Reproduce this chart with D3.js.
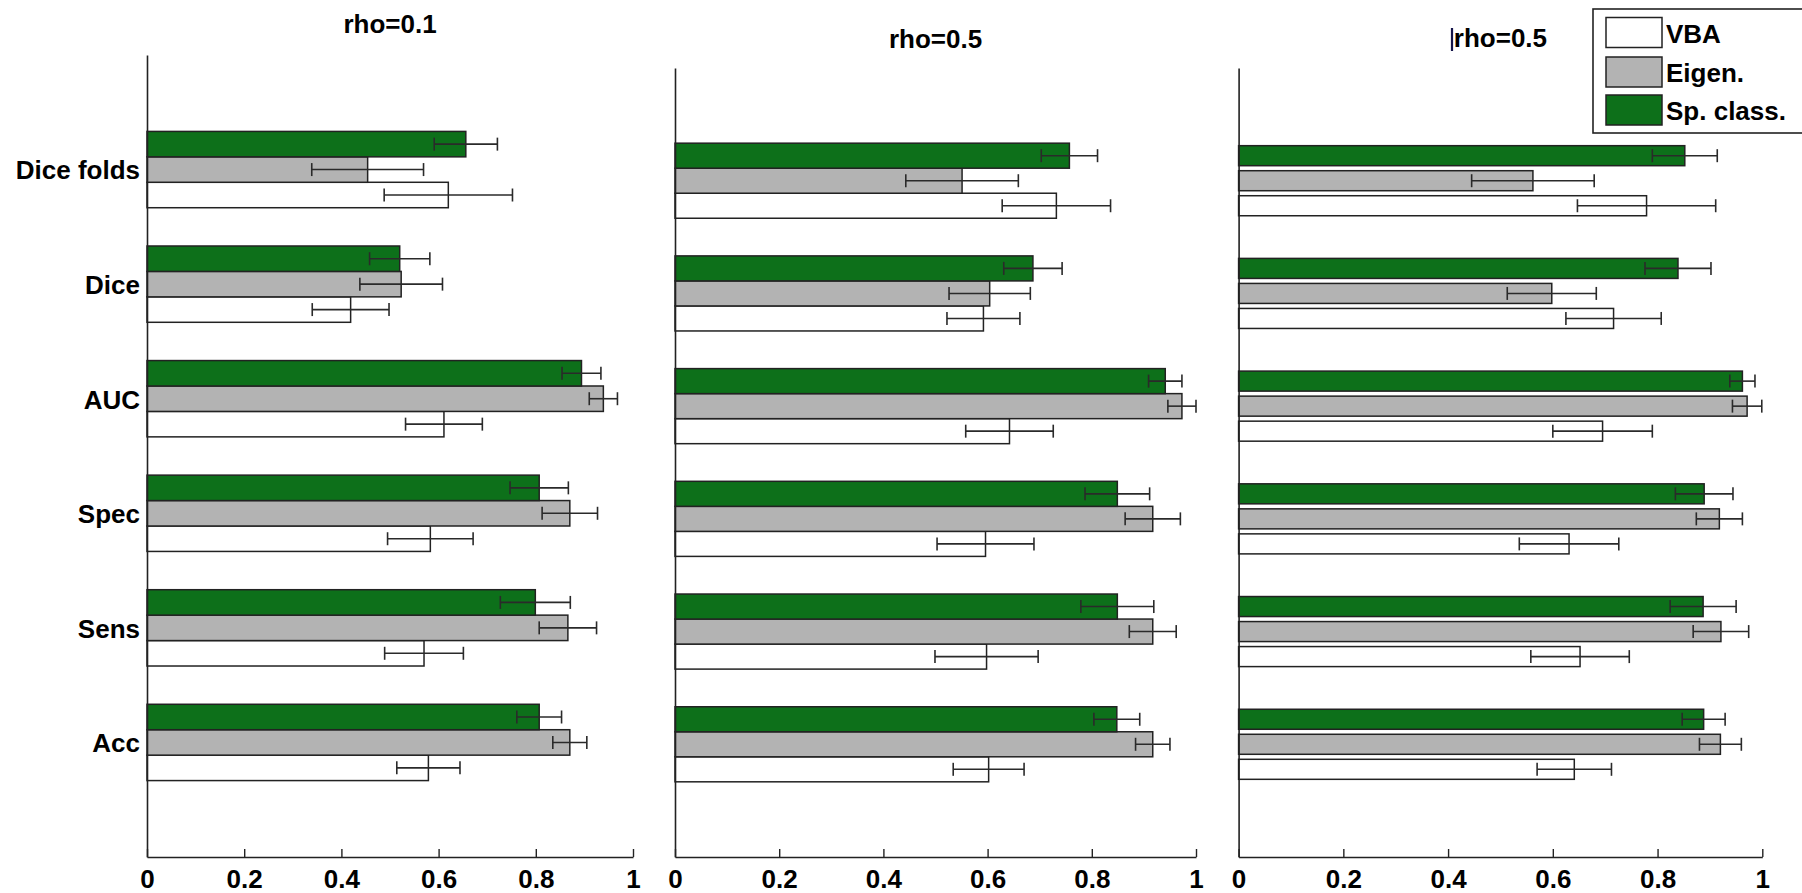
<!DOCTYPE html>
<html>
<head>
<meta charset="utf-8">
<script src="https://cdn.jsdelivr.net/npm/d3@7"></script>
<style>
  html, body { margin: 0; padding: 0; background: #fff; }
  svg { display: block; }
  text { font-family: "Liberation Sans", Arial, Helvetica, sans-serif; font-weight: bold; fill: #000; }
</style>
</head>
<body>
<svg id="chart" width="1802" height="893"></svg>
<script>
// ---------------- DATA ----------------
const categories = ["Dice folds", "Dice", "AUC", "Spec", "Sens", "Acc"]; // top -> bottom
const seriesNames = ["VBA", "Eigen.", "Sp. class."];
const panelTitles = ["rho=0.1", "rho=0.5", "rho=0.5"];
const tickValues = [0, 0.2, 0.4, 0.6, 0.8, 1];
const tickLabels = ["0", "0.2", "0.4", "0.6", "0.8", "1"];

// Panel 1 (rho=0.1)
const p1VBA      = [0.620, 0.419, 0.611, 0.583, 0.570, 0.579];
const p1VBAErr   = [0.132, 0.079, 0.079, 0.088, 0.081, 0.065];
const p1Eigen    = [0.454, 0.523, 0.939, 0.870, 0.866, 0.870];
const p1EigenErr = [0.115, 0.085, 0.029, 0.057, 0.059, 0.035];
const p1Sp       = [0.656, 0.520, 0.894, 0.807, 0.799, 0.807];
const p1SpErr    = [0.065, 0.062, 0.040, 0.060, 0.072, 0.046];

// Panel 2 (rho=0.5)
const p2VBA      = [0.732, 0.592, 0.642, 0.596, 0.598, 0.602];
const p2VBAErr   = [0.104, 0.070, 0.084, 0.093, 0.099, 0.068];
const p2Eigen    = [0.551, 0.604, 0.973, 0.917, 0.917, 0.917];
const p2EigenErr = [0.108, 0.078, 0.027, 0.053, 0.045, 0.033];
const p2Sp       = [0.757, 0.687, 0.941, 0.849, 0.849, 0.848];
const p2SpErr    = [0.054, 0.056, 0.032, 0.062, 0.070, 0.044];

// Panel 3 (rho=0.5)
const p3VBA      = [0.779, 0.716, 0.695, 0.631, 0.652, 0.641];
const p3VBAErr   = [0.132, 0.091, 0.095, 0.095, 0.094, 0.071];
const p3Eigen    = [0.562, 0.598, 0.971, 0.918, 0.921, 0.920];
const p3EigenErr = [0.117, 0.085, 0.028, 0.044, 0.053, 0.040];
const p3Sp       = [0.852, 0.839, 0.962, 0.889, 0.887, 0.888];
const p3SpErr    = [0.062, 0.063, 0.024, 0.055, 0.063, 0.041];

// ---------------- STYLE / LAYOUT ----------------
const colors = ["#ffffff", "#b3b3b3", "#0d701a"];
const FONT = 26;
const panels = [
  { title: panelTitles[0], x0: 147, x1: 633, top: 55, bottom: 857, titleY: 33, fill: 1.0, showLabels: true,
    series: [[p1VBA, p1VBAErr], [p1Eigen, p1EigenErr], [p1Sp, p1SpErr]] },
  { title: panelTitles[1], x0: 675, x1: 1196, top: 68, bottom: 857, titleY: 48, fill: 1.0, showLabels: false,
    series: [[p2VBA, p2VBAErr], [p2Eigen, p2EigenErr], [p2Sp, p2SpErr]] },
  { title: panelTitles[2], x0: 1238.6, x1: 1762.3, top: 68, bottom: 857, titleY: 47, fill: 0.8, showLabels: false,
    series: [[p3VBA, p3VBAErr], [p3Eigen, p3EigenErr], [p3Sp, p3SpErr]] }
];
const slot = 0.222; // bar slot in category units

const svg = d3.select("#chart");

panels.forEach((p, pi) => {
  const x = d3.scaleLinear().domain([0, 1]).range([p.x0, p.x1]);
  const y = d3.scaleLinear().domain([0, 7]).range([p.bottom, p.top]);
  const g = svg.append("g");
  const nCat = categories.length;
  const catPos = i => nCat - i; // top category at 6

  // bars
  const barH = Math.abs(y(0) - y(slot)) * p.fill;
  p.series.forEach((s, si) => {
    const vals = s[0];
    const off = (si - 1) * slot;
    g.selectAll(null).data(vals).enter().append("rect")
      .attr("x", x(0))
      .attr("y", (d, i) => y(catPos(i) + off) - barH / 2)
      .attr("width", d => x(d) - x(0))
      .attr("height", barH)
      .attr("fill", colors[si])
      .attr("stroke", "#222")
      .attr("stroke-width", 1.5);
  });

  // error bars
  p.series.forEach((s, si) => {
    const vals = s[0], errs = s[1];
    const off = (si - 1) * slot;
    const eg = g.append("g").attr("stroke", "#2a2a2a").attr("stroke-width", 1.6).attr("fill", "none");
    vals.forEach((v, i) => {
      const cy = y(catPos(i) + off);
      const lo = x(v - errs[i]), hi = x(v + errs[i]);
      eg.append("line").attr("x1", lo).attr("x2", hi).attr("y1", cy).attr("y2", cy);
      eg.append("line").attr("x1", lo).attr("x2", lo).attr("y1", cy - 6.5).attr("y2", cy + 6.5);
      eg.append("line").attr("x1", hi).attr("x2", hi).attr("y1", cy - 6.5).attr("y2", cy + 6.5);
    });
  });

  // x axis
  const xAxis = d3.axisBottom(x)
    .tickValues(tickValues)
    .tickFormat((d, i) => tickLabels[i])
    .tickSizeInner(-8).tickSizeOuter(0).tickPadding(12.5);
  const xg = g.append("g").attr("transform", `translate(0,${p.bottom})`).call(xAxis);
  xg.select(".domain").attr("stroke", "#222").attr("stroke-width", 1.6);
  xg.selectAll(".tick line").attr("stroke", "#222").attr("stroke-width", 1.4);
  xg.selectAll(".tick text").style("font-size", FONT + "px").style("font-weight", "bold")
    .style("font-family", "'Liberation Sans', Arial, sans-serif").attr("fill", "#000");

  // y axis
  const yAxis = d3.axisLeft(y)
    .tickValues(categories.map((c, i) => catPos(i)))
    .tickFormat((d) => p.showLabels ? categories[nCat - d] : "")
    .tickSizeInner(0).tickSizeOuter(0).tickPadding(7);
  const yg = g.append("g").attr("transform", `translate(${p.x0},0)`).call(yAxis);
  yg.select(".domain").attr("stroke", "#222").attr("stroke-width", 1.6);
  yg.selectAll(".tick text").style("font-size", FONT + "px").style("font-weight", "bold")
    .style("font-family", "'Liberation Sans', Arial, sans-serif").attr("fill", "#000")
    .attr("dy", "0.36em");

  // title
  g.append("text")
    .attr("x", (p.x0 + p.x1) / 2)
    .attr("y", p.titleY)
    .attr("text-anchor", "middle")
    .style("font-size", FONT + "px")
    .text(p.title);
});

// text cursor artifact in third title
svg.append("line").attr("x1", 1452).attr("x2", 1452).attr("y1", 28).attr("y2", 51)
  .attr("stroke", "#14144a").attr("stroke-width", 2.2);

// legend
const leg = svg.append("g");
leg.append("rect").attr("x", 1593).attr("y", 9).attr("width", 230).attr("height", 124)
  .attr("fill", "#fff").attr("stroke", "#222").attr("stroke-width", 1.6);
const legendY = [32.5, 72, 110];
seriesNames.forEach((name, i) => {
  leg.append("rect").attr("x", 1606).attr("y", legendY[i] - 15).attr("width", 56).attr("height", 30)
    .attr("fill", colors[i]).attr("stroke", "#222").attr("stroke-width", 1.5);
  leg.append("text").attr("x", 1666).attr("y", legendY[i] + 10)
    .style("font-size", FONT + "px").text(name);
});
</script>
</body>
</html>
